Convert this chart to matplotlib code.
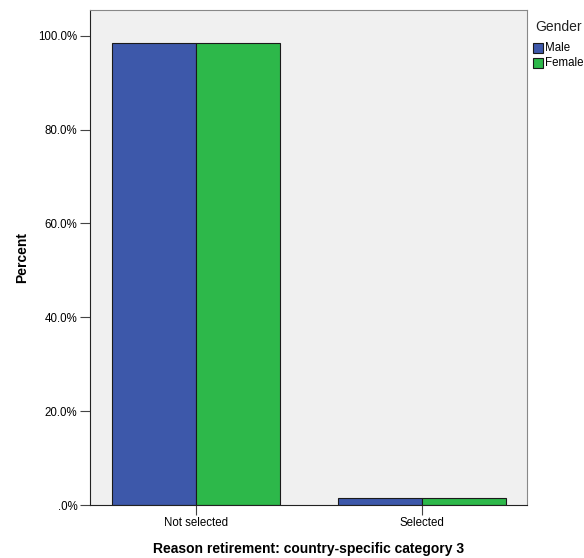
import matplotlib
matplotlib.use("Agg")
import matplotlib.pyplot as plt
import numpy as np
from matplotlib.patches import Rectangle

categories = ["Not selected", "Selected"]
male = [98.5, 1.5]
female = [98.5, 1.5]
series_names = ["Male", "Female"]
yticks = [0, 20, 40, 60, 80, 100]
ytick_labels = [".0%", "20.0%", "40.0%", "60.0%", "80.0%", "100.0%"]

plt.rcParams['font.family'] = ['Liberation Sans', 'DejaVu Sans']

fig = plt.figure(figsize=(5.84, 5.58), dpi=100)
ax = fig.add_axes([90/584, 1-505/558, 437/584, 495/558])
ax.set_facecolor('#f0f0f0')

x = np.arange(len(categories))
w = 0.372
c_m = '#3d58aa'
c_f = '#2db84a'
ax.bar(x - w/2, male, w, color=c_m, edgecolor='#1a1a1a', linewidth=0.8, label=series_names[0])
ax.bar(x + w/2, female, w, color=c_f, edgecolor='#1a1a1a', linewidth=0.8, label=series_names[1])

ax.set_xlim(-0.469, 1.465)
ax.set_ylim(0, 105.5)
ax.set_yticks(yticks)
ax.set_yticklabels(ytick_labels, fontsize=8.3)
ax.set_xticks(x)
ax.set_xticklabels(categories, fontsize=8.3)
ax.tick_params(axis='both', length=7, width=0.8, color='#444444', pad=2)
for s in ['top', 'right']:
    ax.spines[s].set_color('#888888')
for s in ['left', 'bottom']:
    ax.spines[s].set_color('#222222')

ax.set_ylabel("Percent", fontsize=10, fontweight='bold', labelpad=7)
ax.set_xlabel("Reason retirement: country-specific category 3", fontsize=10, fontweight='bold', labelpad=9)

# Legend
fig.text(535/584, 1-27/558, "Gender", fontsize=10, va='center', ha='left', color='#222222')
for i, (name, col) in enumerate(zip(series_names, [c_m, c_f])):
    yc = 48 + i*15
    fig.patches.append(Rectangle((533/584, 1-(yc+5)/558), 10/584, 10/558, transform=fig.transFigure,
                                 facecolor=col, edgecolor='#1a1a1a', linewidth=0.8))
    fig.text(545/584, 1-yc/558, name, fontsize=8.3, va='center', ha='left')

fig.savefig("out.png", dpi=100)
